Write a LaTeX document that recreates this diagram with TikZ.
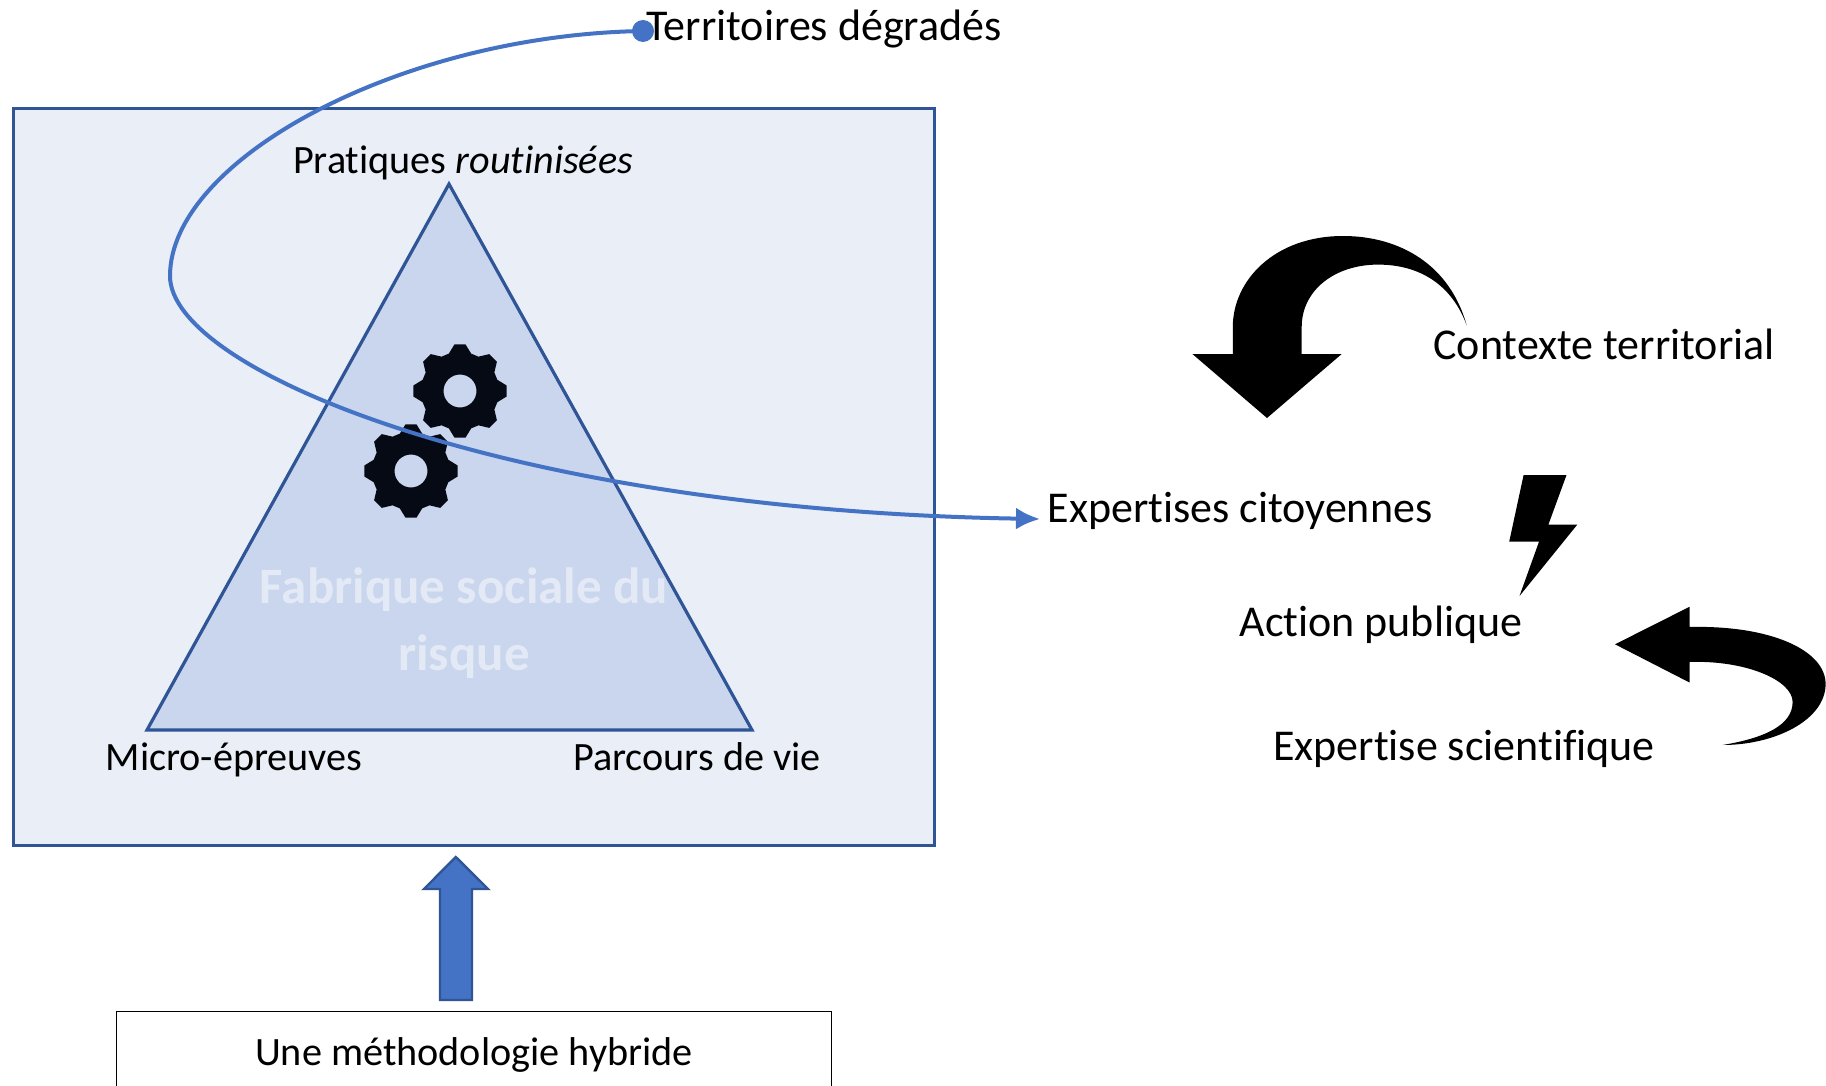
\documentclass[tikz,border=0pt]{standalone}
\usepackage{fontspec}
\setmainfont{Carlito}[Ligatures=NoCommon]
\usetikzlibrary{arrows.meta}
\definecolor{panelfill}{HTML}{E9EEF7}
\definecolor{edgeblue}{HTML}{2F5597}
\definecolor{triafill}{HTML}{CAD6EE}
\definecolor{lineblue}{HTML}{4472C4}
\definecolor{gearblack}{HTML}{060A14}
\definecolor{pale}{HTML}{E3E9F5}
\tikzset{
  lab/.style={font=\fontsize{20.1}{24}\selectfont,inner sep=0pt,text=black,anchor=base},
  big lab/.style={font=\fontsize{22}{26}\selectfont,inner sep=0pt,text=black,anchor=base},
  bold lab/.style={font=\fontsize{25.5}{30}\selectfont\bfseries,inner sep=0pt,text=pale,anchor=base},
  solid black/.style={fill=black,draw=none},
  gear/.pic={
    \fill[gearblack,even odd rule]
      (-16.7:39)
      \foreach \a in {0,45,...,315}{
        -- (\a-16.7:39) -- (\a-6.7:47) -- (\a+6.7:47) -- (\a+16.7:39) -- (\a+28.3:39) }
      -- cycle (0,0) circle (16.5);
  }
}
\begin{document}
\begin{tikzpicture}[x=0.5pt,y=-0.5pt]
\useasboundingbox (0,0) rectangle (1826,1086);
\clip (0,0) rectangle (1826,1086);
% panel
\node[draw=edgeblue,fill=panelfill,line width=1.5pt,minimum width=460.5pt,minimum height=368.5pt,inner sep=0pt,anchor=north west] (panel) at (12,107) {};
% triangle
\coordinate (ta) at (449,184);
\coordinate (tb) at (147,730);
\coordinate (tc) at (752,730);
\draw[edgeblue,fill=triafill,line width=1.6pt,line join=miter] (ta) -- (tb) -- (tc) -- cycle;
% gears
\pic at (460,391) {gear};
\pic at (411,471) {gear};
% labels in panel
\node[lab] (prat) at (463,173) {Pratiques \textit{routinisées}};
\node[lab] (micro) at (234,770) {Micro-épreuves};
\node[lab] (parc) at (697,770) {Parcours de vie};
\node[bold lab] (fab1) at (464,603) {Fabrique sociale du};
\node[bold lab] (fab2) at (464,670) {risque};
% curve
\node[circle,fill=lineblue,inner sep=0pt,minimum size=11pt] (dot) at (643,31) {};
\node[big lab,anchor=base west] (terr) at (646,41) {Territoires dégradés};
\coordinate (bend) at (170,276);
\coordinate (tip) at (1040,519);
\draw[lineblue,line width=2pt,-{Latex[length=12pt,width=11pt]}]
  (dot.center) .. controls (400,35) and (170,160) .. (bend)
  .. controls (170,370) and (505,510) .. (tip);
% up arrow
\draw[edgeblue,fill=lineblue,line width=1.2pt,line join=miter]
  (440,1000) -- (440,889) -- (424,889) -- (455.8,857) -- (488,889) -- (472,889) -- (472,1000) -- cycle;
% method box
\node[draw=black,line width=0.7pt,minimum width=357.5pt,minimum height=60pt,inner sep=0pt,anchor=north west] (meth) at (116,1011) {};
\node[lab] (methl) at (474,1065) {Une méthodologie hybride};
% right labels
\node[big lab] (ctx) at (1604,359) {Contexte territorial};
\node[big lab] (cit) at (1240,522) {Expertises citoyennes};
\node[big lab] (act) at (1381,636) {Action publique};
\node[big lab] (sci) at (1464,760) {Expertise scientifique};
% curved arrow top
\fill[solid black]
  (1466.7,325.4) .. controls (1450,265) and (1400,236) .. (1343,236)
  .. controls (1275,236) and (1232.8,280) .. (1232.8,327)
  -- (1232.8,354) -- (1192.4,354) -- (1267,418) -- (1341.7,354) -- (1301.7,354) -- (1301.7,327)
  .. controls (1301.7,290) and (1335,264.6) .. (1378,264.6)
  .. controls (1420,264.6) and (1452,285) .. (1466.7,325.4) -- cycle;
% bolt
\fill[solid black]
  (1523.6,475) -- (1566.5,475) -- (1548.4,524.6) -- (1577.3,524.6) -- (1519.5,596) -- (1539,541.7) -- (1509.2,541.7) -- cycle;
% curved arrow bottom
\fill[solid black]
  (1615,644.3) -- (1689.5,606.8) -- (1689.5,627)
  .. controls (1770,625) and (1825.6,650) .. (1825.6,684)
  .. controls (1825.6,720) and (1775,745) .. (1722.5,745)
  .. controls (1765,738) and (1792.6,725) .. (1792.6,702)
  .. controls (1792.6,680) and (1745,660) .. (1689.5,662)
  -- (1689.5,682.5) -- cycle;
\end{tikzpicture}
\end{document}
